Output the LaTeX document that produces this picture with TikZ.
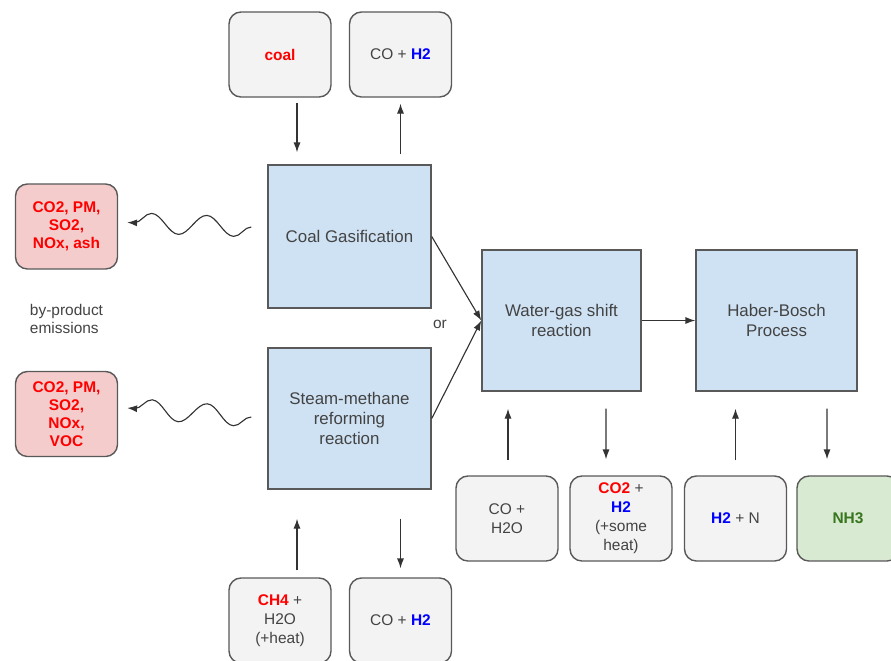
\documentclass[tikz,border=0pt]{standalone}
\usepackage{fontspec}
\setmainfont{Liberation Sans}
\usepackage{tikz}
\usetikzlibrary{shapes,arrows}
\usetikzlibrary{positioning}
\usetikzlibrary{calc}
\usetikzlibrary{decorations.pathmorphing}
\usetikzlibrary{arrows.meta}
\definecolor{boxgray}{HTML}{F3F3F3}
\definecolor{edgegray}{HTML}{595959}
\definecolor{txtgray}{HTML}{434343}
\definecolor{arrowgray}{HTML}{333333}
\definecolor{procblue}{HTML}{CFE2F3}
\definecolor{emisred}{HTML}{F4CCCC}
\definecolor{prodgreen}{HTML}{D9EAD3}
\definecolor{chemred}{HTML}{FF0000}
\definecolor{chemblue}{HTML}{0000FF}
\definecolor{chemgreen}{HTML}{38761D}
\newcommand{\chemR}[1]{\textcolor{chemred}{\textbf{#1}}}
\newcommand{\chemB}[1]{\textcolor{chemblue}{\textbf{#1}}}
\tikzset{>=stealth}
\tikzstyle{line} = [draw, 
-{Latex[length=7pt,width=5pt]}, line width=0.8pt,
color=arrowgray]

\begin{document}
\begin{tikzpicture}[x=0.025cm, y=-0.025cm,
		auto,
		feed/.style={draw=edgegray, line width=1pt, rectangle, rounded corners=0.3cm,
			fill=boxgray, minimum width=2.55cm, minimum height=2.125cm, align=center,
			text=txtgray, font=\fontsize{11}{13.5}\selectfont},
		emis/.style={feed, fill=emisred, text=chemred, font=\fontsize{11}{12.8}\selectfont\bfseries},
		proc/.style={draw=edgegray, line width=1pt, rectangle, fill=procblue,
			minimum width=4.05cm, minimum height=3.55cm, align=center,
			text=txtgray, font=\fontsize{12}{14}\selectfont},
		squig/.style={draw=arrowgray, line width=0.8pt, -{Latex[length=7pt,width=5pt]}, decorate,
			decoration={snake, amplitude=0.25cm, segment length=1.38cm}}]
		\clip (0,0) rectangle (891,660);
		%% Inputs / outputs
		\node [feed] at (280,54.5) (coal) {\chemR{coal}};
		\node [feed] at (400.5,54.5) (syngasA) {CO + \chemB{H2}};
		\node [feed] at (280,620.5) (ch4) {\chemR{CH4} +\\H2O\\(+heat)};
		\node [feed] at (400.5,620.5) (syngasB) {CO + \chemB{H2}};
		\node [feed] at (507,518.5) (coh2o) {CO +\\H2O};
		\node [feed] at (621,518.5) (co2) {\chemR{CO2} +\\\chemB{H2}\\(+some\\heat)};
		\node [feed] at (735.5,518.5) (h2n) {\chemB{H2} + N};
		\node [feed, fill=prodgreen] at (848,518.5) (nh3) {\textcolor{chemgreen}{\textbf{NH3}}};
		%% Processes
		\node [proc, minimum width=4.075cm, minimum height=3.575cm] at (349.5,236.5) (gas) {Coal Gasification};
		\node [proc, minimum width=4.075cm, minimum height=3.525cm] at (349.5,418.5) (smr) {Steam-methane\\reforming\\reaction};
		\node [proc, minimum width=3.975cm, minimum height=3.525cm] at (561.5,320.5) (wgs) {Water-gas shift\\reaction};
		\node [proc, minimum width=4.025cm, minimum height=3.525cm] at (776.5,320.5) (hb) {Haber-Bosch\\Process};
		%% Emissions
		\node [emis] at (66.5,226.5) (emA) {CO2, PM,\\SO2,\\NOx, ash};
		\node [emis] at (66.5,414) (emB) {CO2, PM,\\SO2,\\NOx,\\VOC};
		\node [anchor=west, align=left, text=txtgray, font=\fontsize{11}{13}\selectfont] at (25,319) (byprod) {by-product\\emissions};
		\node [text=txtgray, font=\fontsize{11}{13}\selectfont] at (440,324) (orLbl) {or};
		%% Flows
		\path [line] ($(coal.south)+(17,5)$) -- ($(gas.north)+(-52.5,-12)$);
		\path [line] ($(gas.north)+(51,-10)$) -- ($(syngasA.south)+(0,6)$);
		\path [line] ($(ch4.north)+(17,-7)$) -- ($(smr.south)+(-52.5,29)$);
		\path [line] ($(smr.south)+(51,29)$) -- ($(syngasB.north)+(0,-9)$);
		\path [line] (gas.east) -- (wgs.west);
		\path [line] (smr.east) -- (wgs.west);
		\path [line] (wgs) -- (hb);
		\path [line] ($(coh2o.north)+(1,-15)$) -- ($(wgs.south)+(-53.5,17)$);
		\path [line] ($(wgs.south)+(44.5,17)$) -- ($(co2.north)+(-15,-16)$);
		\path [line] ($(h2n.north)+(0,-15)$) -- ($(hb.south)+(-41,17)$);
		\path [line] ($(hb.south)+(50.5,17)$) -- ($(nh3.north)+(-21,-16)$);
		%% By-products
		\coordinate (gasTail) at ($(gas.west)+(-16,-9.5)$);
		\coordinate (smrTail) at ($(smr.west)+(-16,-1.5)$);
		\draw [squig] (gasTail) -- ($(emA.east)+(9,-4)$);
		\draw [squig] (smrTail) -- ($(emB.east)+(9,-6)$);
	\end{tikzpicture}
\end{document}
